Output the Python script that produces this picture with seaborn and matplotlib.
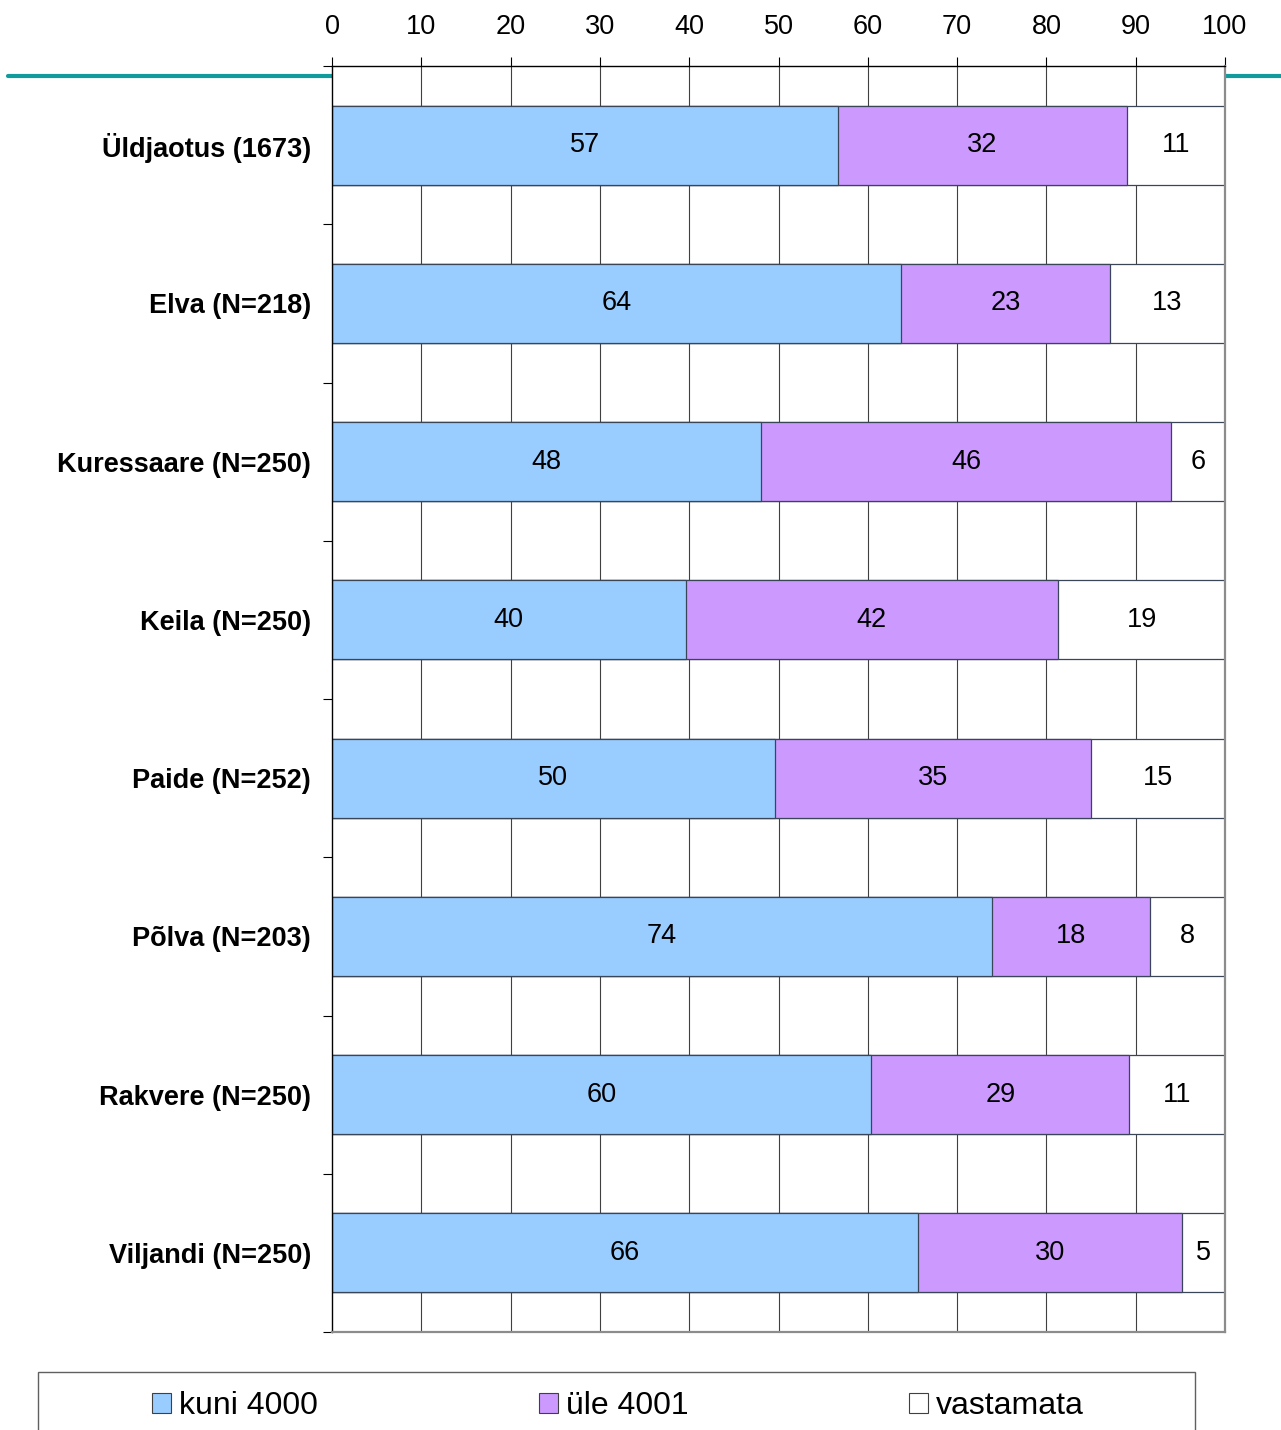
import matplotlib
matplotlib.use("Agg")
import matplotlib.pyplot as plt
from matplotlib.patches import Patch, Rectangle
from matplotlib.lines import Line2D
import seaborn as sns
import pandas as pd
import numpy as np

categories = ["Üldjaotus (1673)", "Elva (N=218)", "Kuressaare (N=250)", "Keila (N=250)",
              "Paide (N=252)", "Põlva (N=203)", "Rakvere (N=250)", "Viljandi (N=250)"]
kuni_4000 = [56.7, 63.7, 48.0, 39.6, 49.6, 73.9, 60.4, 65.6]
yle_4001 = [32.3, 23.4, 46.0, 41.7, 35.4, 17.7, 28.9, 29.6]
vastamata = [11.0, 12.9, 6.0, 18.7, 15.0, 8.4, 10.7, 4.8]
series_names = ["kuni 4000", "üle 4001", "vastamata"]
series_colors = ["#99CCFF", "#CC99FF", "#FFFFFF"]
xticks = [0, 10, 20, 30, 40, 50, 60, 70, 80, 90, 100]

sns.set_theme(style="white")
plt.rcParams["font.family"] = ["Liberation Sans", "DejaVu Sans"]
plt.rcParams["text.color"] = "black"
plt.rcParams["xtick.color"] = "black"
plt.rcParams["ytick.color"] = "black"
plt.rcParams["xtick.labelcolor"] = "black"
plt.rcParams["ytick.labelcolor"] = "black"

W, H = 1281, 1430
fig = plt.figure(figsize=(W / 100, H / 100), dpi=100)
ax = fig.add_axes([332 / W, 1 - 1332 / H, (1225 - 332) / W, (1332 - 66) / H])
ax.set_facecolor("white")

df = pd.DataFrame({"cat": categories, "a": kuni_4000, "b": yle_4001, "c": vastamata})
df["cum_a"] = df["a"]
df["cum_b"] = df["a"] + df["b"]
df["cum_c"] = df["a"] + df["b"] + df["c"]

edge = "#3a4658"
for col, color in zip(["cum_c", "cum_b", "cum_a"], series_colors[::-1]):
    sns.barplot(data=df, y="cat", x=col, order=categories, orient="h", color=color,
                width=0.5, edgecolor=edge, linewidth=0.9, saturation=1, ax=ax, zorder=3)

# value labels
for i, row in df.iterrows():
    starts = [0, row["cum_a"], row["cum_b"]]
    vals = [row["a"], row["b"], row["c"]]
    for s, v in zip(starts, vals):
        ax.text(s + v / 2, i, f"{v:.0f}", ha="center", va="center", fontsize=19.5,
                color="black", zorder=5)

ax.set_xlim(0, 100)
ax.set_ylim(len(categories) - 0.5, -0.5)
ax.set_xlabel("")
ax.set_ylabel("")

# grid
for x in xticks[1:-1]:
    ax.axvline(x, color="#404040", lw=0.8, zorder=1)

ax.xaxis.tick_top()
ax.set_xticks(xticks)
ax.set_xticklabels([str(t) for t in xticks], fontsize=19.5, color="black")
ax.tick_params(axis="x", which="major", top=True, bottom=False, length=6.5,
               width=0.8, color="black", direction="out", pad=12.5)

ax.set_yticks(range(len(categories)))
ax.set_yticklabels(categories, fontsize=19.5, fontweight="bold", color="black",
                   va="center_baseline")
ax.tick_params(axis="y", which="major", length=0, pad=15)
ax.set_yticks(np.arange(-0.5, len(categories), 1.0), minor=True)
ax.tick_params(axis="y", which="minor", left=True, length=6.5, width=0.8,
               color="black", direction="out")

for side in ["top", "left"]:
    ax.spines[side].set_color("black")
    ax.spines[side].set_linewidth(1.0)
for side in ["right", "bottom"]:
    ax.spines[side].set_color("#8c8c8c")
    ax.spines[side].set_linewidth(1.6)
for s in ax.spines.values():
    s.set_visible(True)
    s.set_zorder(6)

# teal line behind axes
fig.add_artist(Line2D([8 / W, 1.0], [1 - 76 / H, 1 - 76 / H], transform=fig.transFigure,
                      color="#109C9C", lw=3, zorder=-1))

# legend frame
fig.add_artist(Rectangle((38 / W, -0.01), (1195 - 38) / W, (1 - 1372 / H) + 0.01,
                         transform=fig.transFigure, facecolor="none",
                         edgecolor="#606060", lw=1.0))
handles = [Patch(facecolor=c, edgecolor="#404040", lw=0.8) for c in series_colors]
fig.legend(handles, series_names, loc="center", bbox_to_anchor=(618 / W, 1 - 1406 / H),
           ncol=3, frameon=False, fontsize=23, handlelength=0.6, handleheight=0.6,
           handletextpad=0.25, columnspacing=6.9, borderpad=0, labelcolor="black")

fig.savefig("out.png", dpi=100)
